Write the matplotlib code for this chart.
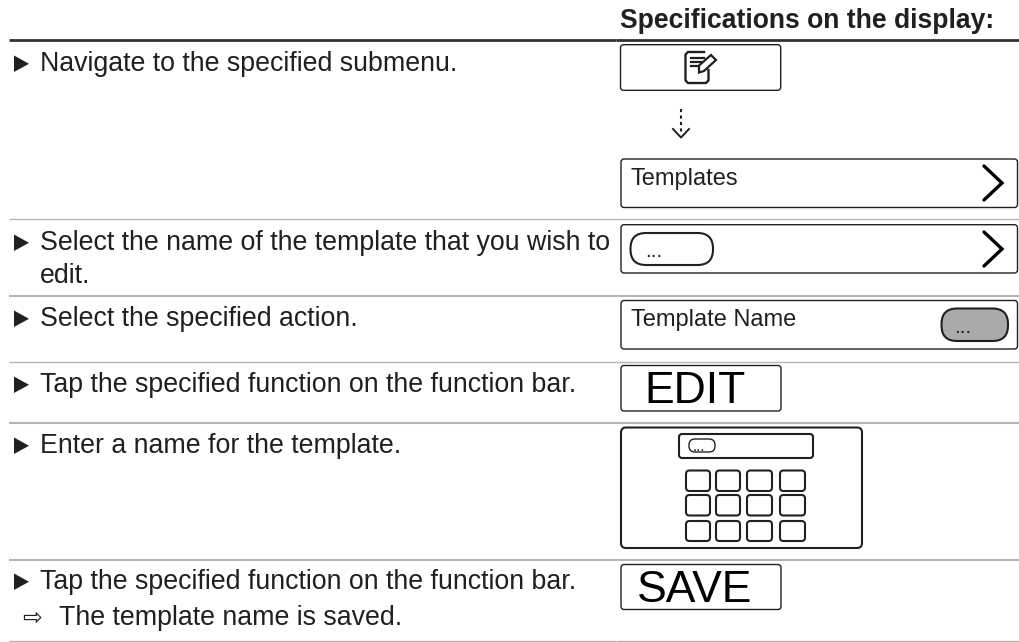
#!/usr/bin/env python3

# Instruction table: steps on the left, display specifications on the right.
# The axes use the pixels of the picture, with y pointing down.
import matplotlib
matplotlib.use("Agg")
import matplotlib.pyplot as plt
from matplotlib.patches import FancyBboxPatch, Polygon

plt.rcParams['font.family'] = ['Liberation Sans', 'DejaVu Sans']

# Texts of the chart
header = "Specifications on the display:"
steps = ["Navigate to the specified submenu.",
         "Select the name of the template that you wish to",
         "Select the specified action.",
         "Tap the specified function on the function bar.",
         "Enter a name for the template.",
         "Tap the specified function on the function bar."]
step_base = [71, 250, 326, 392, 453, 589]
wrapped = "edit."
result = "The template name is saved."
rules = [219, 296, 361.5, 423, 560, 641]
rule_lw = [1.0, 1.5, 1.0, 1.5, 1.5, 1.0]

ink = "#231f20"
text_size = 19.25

fig = plt.figure(figsize=(10.2, 6.42), dpi=100)
ax = fig.add_axes([0, 0, 1, 1])
ax.set_xlim(0, 1020)
ax.set_ylim(642, 0)
ax.axis("off")


def rbox(x0, y0, x1, y1, r=3, lw=1.0, fc="none", ec=ink):
    ax.add_patch(FancyBboxPatch((x0 + r, y0 + r), x1 - x0 - 2 * r, y1 - y0 - 2 * r,
                                boxstyle="round,pad=%g,rounding_size=%g" % (r, r),
                                fc=fc, ec=ec, lw=lw))


def chevron(y):
    ax.plot([984, 1002, 984], [y - 17, y, y + 17], color="black", lw=2.4,
            solid_capstyle="round", solid_joinstyle="miter")


def line(xs, ys, lw=1.0, **kw):
    ax.plot(xs, ys, color=ink, lw=lw, **kw)


# Table rules, with the small break between the two columns
for x0, x1 in [(9, 615.6), (616.4, 1020)]:
    ax.plot([x0, x1], [39.5, 39.5], color="#333031", lw=2.0, solid_capstyle="butt")
    for y, lw in zip(rules, rule_lw):
        ax.plot([x0, x1], [y, y], color="#b4b4b4", lw=lw, solid_capstyle="butt")

# Left column
ax.text(620.5, 27.5, header, fontsize=19.1, fontweight="bold", color=ink, va="baseline")
for s, y in zip(steps, step_base):
    ax.text(40, y, s, fontsize=text_size, color=ink, va="baseline")
    ax.add_patch(Polygon([[14, y - 15.5], [14, y + 1], [29, y - 7.2]], closed=True, fc=ink, ec="none"))
ax.text(40, 283, wrapped, fontsize=text_size, color=ink, va="baseline")
ax.text(22, 625, "\u21e8", fontsize=17, color=ink, family="DejaVu Sans", va="baseline")
ax.text(59, 625, result, fontsize=text_size, color=ink, va="baseline")

# Menu icon box, with the notepad and pencil
rbox(620.5, 44.7, 780.7, 90.3)
line([704, 688, 685.5, 685.5, 688, 706, 708.5, 708.5], [52, 52, 54.5, 80.5, 83, 83, 80.5, 70], lw=1.7)
line([691, 704], [57.5, 57.5], lw=1.6)
line([691, 701], [61.5, 61.5], lw=1.6)
line([691, 697], [65.5, 65.5], lw=1.6)
ax.add_patch(Polygon([[699, 65.5], [711, 55], [716, 60], [704, 71], [699, 72.5]], closed=True,
                     fc="none", ec=ink, lw=1.6))

# Dotted arrow down
line([681, 681], [109, 134], lw=1.5, ls=(0, (1.5, 1.6)))
line([673, 681, 689], [129, 137.5, 129], lw=1.4)

# Templates row
rbox(621, 159, 1017.5, 207.5)
ax.text(631, 185, "Templates", fontsize=17, color=ink, va="baseline")
chevron(183)

# Row with an empty pill
rbox(621, 224.7, 1017.5, 273)
rbox(630.5, 233, 713, 265, r=15.5, lw=1.5)
ax.text(645, 257, "...", fontsize=15, color=ink, va="baseline")
chevron(249)

# Template Name row
rbox(621, 300.5, 1017.5, 349)
ax.text(631, 326, "Template Name", fontsize=17, color=ink, va="baseline")
rbox(941.5, 308.5, 1008, 341, r=15.5, lw=1.5, fc="#aaaaad")
ax.text(954, 333, "...", fontsize=15, color=ink, va="baseline")

# Function bar buttons
rbox(621, 365.5, 781, 411)
ax.text(695.5, 402.7, "EDIT", fontsize=32, color="black", ha="center", va="baseline")
rbox(621, 564.5, 781, 609.5)
ax.text(695, 602, "SAVE", fontsize=32, color="black", ha="center", va="baseline")

# Keyboard screen
rbox(621, 427.5, 862, 548, r=5, lw=1.5)
rbox(679, 434, 813, 458, r=3, lw=1.5)
rbox(689, 439, 715, 452, r=6, lw=1.0)
ax.text(693, 450.7, "...", fontsize=11, color=ink, va="baseline")
for x0, x1 in [(686, 710), (716, 740), (747, 772), (780, 805)]:
    for y0, y1 in [(470.5, 491), (495, 515.5), (521, 541)]:
        rbox(x0, y0, x1, y1, r=3.5, lw=1.5)

fig.savefig("out.png", dpi=100)
